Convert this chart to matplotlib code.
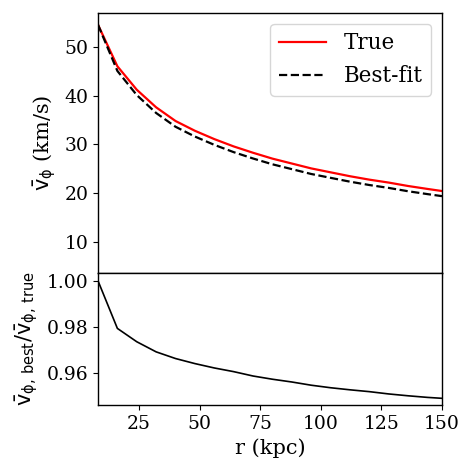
import matplotlib
matplotlib.use("Agg")
import matplotlib.pyplot as plt
import numpy as np

plt.rcParams['font.family'] = 'DejaVu Serif'
plt.rcParams['mathtext.default'] = 'rm'

# radii (kpc)
r = [8, 16, 24, 32, 40, 48, 56, 64, 72, 80, 88, 96, 104, 112, 120, 128, 136, 144, 150]
# true mean rotational velocity (km/s)
v_true = [54.5, 46.0, 41.2, 37.6, 34.8, 32.8, 31.1, 29.6, 28.3, 27.1, 26.1, 25.1,
          24.3, 23.5, 22.8, 22.2, 21.5, 20.9, 20.47]
# best-fit / true
ratio = [1.000, 0.9793, 0.9735, 0.9691, 0.9662, 0.9640, 0.9621, 0.9605, 0.9586,
         0.9572, 0.9560, 0.9546, 0.9535, 0.9526, 0.9518, 0.9508, 0.9500, 0.9493, 0.9489]

v_best = np.array(v_true) * np.array(ratio)

fig = plt.figure(figsize=(4.59, 4.63), dpi=100)
ax1 = fig.add_axes([0.2135, 0.4104, 0.7495, 0.5615])
ax2 = fig.add_axes([0.2135, 0.1253, 0.7495, 0.2851], sharex=ax1)

ax1.plot(r, v_true, color='red', lw=1.6, label='True')
ax1.plot(r, v_best, color='black', lw=1.6, ls='--', label='Best-fit')
ax1.set_ylim(3.7, 56.9)
ax1.set_yticks([10, 20, 30, 40, 50])
ax1.set_ylabel(r'$\bar{v}_\phi$ (km/s)', fontsize=15)
ax1.legend(loc='upper right', fontsize=15.5, handlelength=2.2)
ax1.tick_params(labelbottom=False, labelsize=13.5)

ax2.plot(r, ratio, color='black', lw=1.2)
ax2.set_xlim(8, 150)
ax2.set_ylim(0.946, 1.0034)
ax2.set_yticks([0.96, 0.98, 1.00])
ax2.set_yticklabels(['0.96', '0.98', '1.00'])
ax2.set_xticks([25, 50, 75, 100, 125, 150])
ax2.set_xlabel('r (kpc)', fontsize=15)
ax2.set_ylabel(r'$\bar{v}_{\phi,\,best}/\bar{v}_{\phi,\,true}$', fontsize=15)
ax2.tick_params(labelsize=13.5)

for ax in (ax1, ax2):
    for s in ax.spines.values():
        s.set_linewidth(1.0)

fig.savefig('out.png', dpi=100)
